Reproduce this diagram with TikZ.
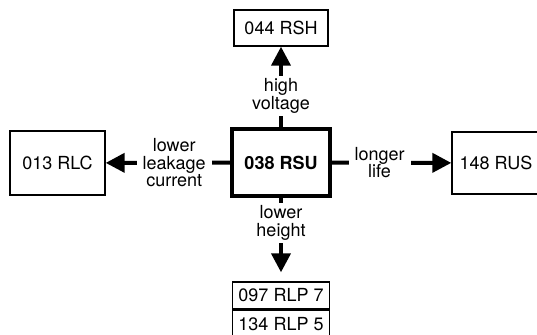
\documentclass[tikz,border=0pt]{standalone}
\usepackage{fontspec}
\setmainfont{TeX Gyre Heros}
\usetikzlibrary{arrows.meta}

\tikzset{
  part/.style={draw, line width=1.4pt, inner sep=0pt, font=\fontsize{18}{18}\selectfont},
  mainpart/.style={part, line width=3.5pt, font=\fontsize{18}{18}\selectfont\bfseries},
  conn/.style={line width=4pt, -{Triangle[length=19pt,width=19pt]}},
  why/.style={fill=white, align=center, inner xsep=6pt, inner ysep=3pt, font=\fontsize{18}{17.5}\selectfont}
}

\begin{document}
\begin{tikzpicture}[x=1pt,y=-1pt]
  \useasboundingbox (0,0) rectangle (537,334);
  \clip (0,0) rectangle (537,334);
  % parts
  \node[mainpart, minimum width=98pt, minimum height=67pt] (rsu) at (281,162.5) {038 RSU};
  \node[part, minimum width=94pt, minimum height=36pt] (rsh) at (281,28) {044 RSH};
  \node[part, minimum width=95pt, minimum height=64pt] (rlc) at (57.5,163) {013 RLC};
  \node[part, minimum width=88pt, minimum height=62pt] (rus) at (496,163) {148 RUS};
  \node[part, minimum width=97pt, minimum height=27pt] (rlp7) at (281,295.5) {097 RLP 7};
  \node[part, minimum width=97pt, minimum height=27pt, anchor=north] (rlp5) at (rlp7.south) {134 RLP 5};
  % directions
  \draw[conn] (rsu) -- (rsh) node[why, pos=0.39] {high\\voltage};
  \draw[conn] (rsu) -- (rlc) node[why, pos=0.45] {lower\\leakage\\current};
  \draw[conn] (rsu) -- (rus) node[why, pos=0.40] {longer\\life};
  \draw[conn, shorten >=9pt] (rsu) -- (rlp7) node[why, pos=0.30] {lower\\height};
\end{tikzpicture}
\end{document}
